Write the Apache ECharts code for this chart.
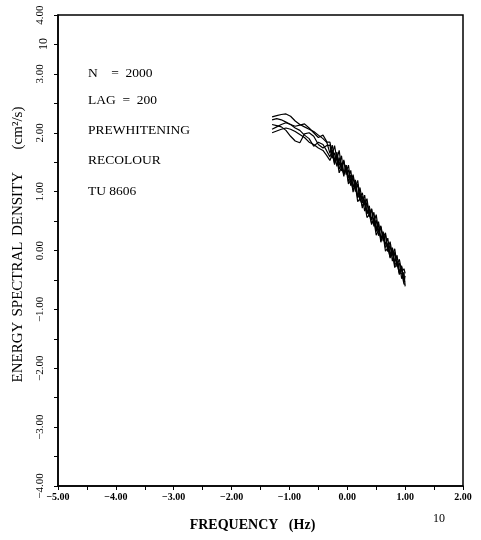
<!DOCTYPE html>
<html>
<head>
<meta charset="utf-8">
<script src="https://cdn.jsdelivr.net/npm/echarts@6/dist/echarts.min.js"></script>
<style>
html,body{margin:0;padding:0;background:#fff;}
#chart{width:481px;height:540px;}
</style>
</head>
<body>
<div id="chart"></div>
<script>
// log10 frequency (Hz)
var logFreq = [-1.30,-1.22,-1.14,-1.06,-0.98,-0.90,-0.82,-0.74,-0.66,-0.58,-0.50,-0.42,-0.36,
	-0.30,-0.26,-0.22,-0.18,-0.14,-0.10,-0.06,-0.02,0.02,0.06,0.10,0.14,0.18,0.22,0.26,0.30,0.34,0.38,0.42,
	0.46,0.50,0.54,0.58,0.62,0.66,0.70,0.74,0.78,0.82,0.86,0.90,0.94,0.98,1.00];
// log10 energy spectral density, one array per record
var esd_1 = [2.27,2.29,2.31,2.32,2.28,2.20,2.14,2.10,2.06,2.02,1.96,1.90,1.84,
	1.84,1.63,1.78,1.55,1.70,1.40,1.52,1.33,1.45,1.16,1.29,1.08,1.19,0.90,0.98,0.77,0.88,0.60,0.71,
	0.48,0.61,0.33,0.42,0.22,0.30,0.02,0.15,-0.08,0.03,-0.24,-0.15,-0.36,-0.31,-0.39];
var esd_2 = [2.22,2.24,2.22,2.18,2.14,2.11,2.13,2.15,2.08,2.00,1.92,1.96,1.86,
	1.65,1.79,1.52,1.67,1.44,1.61,1.30,1.45,1.23,1.36,1.07,1.20,0.91,1.07,0.81,0.94,0.63,0.76,0.52,
	0.65,0.36,0.49,0.20,0.32,0.10,0.21,-0.08,0.05,-0.20,-0.08,-0.37,-0.26,-0.53,-0.53];
var esd_3 = [2.14,2.12,2.10,2.04,1.94,1.86,1.83,1.98,2.00,1.94,1.80,1.74,1.78,
	1.79,1.57,1.66,1.43,1.58,1.35,1.54,1.29,1.37,1.10,1.25,1.00,1.13,0.84,0.92,0.67,0.82,0.57,0.70,
	0.41,0.52,0.25,0.40,0.16,0.27,-0.02,0.09,-0.18,-0.03,-0.28,-0.21,-0.48,-0.37,-0.61];
var esd_4 = [2.06,2.10,2.14,2.17,2.14,2.08,2.04,1.96,1.90,1.77,1.84,1.80,1.70,
	1.59,1.71,1.46,1.63,1.38,1.49,1.26,1.45,1.17,1.28,0.99,1.16,0.89,0.98,0.72,0.87,0.62,0.71,0.44,
	0.55,0.32,0.45,0.14,0.28,0.05,0.12,-0.13,0.02,-0.25,-0.18,-0.41,-0.28,-0.53,-0.43];
var esd_5 = [2.00,2.03,2.06,2.08,2.06,2.02,1.97,1.92,1.84,1.80,1.74,1.70,1.62,
	1.53,1.63,1.48,1.57,1.32,1.41,1.30,1.39,1.13,1.20,1.03,1.10,0.83,0.88,0.76,0.81,0.56,0.61,0.46,
	0.51,0.26,0.35,0.20,0.26,-0.01,0.04,-0.11,-0.04,-0.29,-0.22,-0.39,-0.38,-0.57,-0.57];
var records = [esd_1, esd_2, esd_3, esd_4, esd_5];
// annotation lines
var notes = ['N    =  2000', 'LAG  =  200', 'PREWHITENING', 'RECOLOUR', 'TU 8606'];
// y axis title words
var yTitle = ['ENERGY', 'SPECTRAL', 'DENSITY', '(cm\u00b2/s)'];

var serif = '"Liberation Serif", "DejaVu Serif", serif';

function fmt(v){
	return v.toFixed(2).replace('-', '\u2212');
}

var series = [];
for (var i = 0; i < records.length; i++) {
	var pts = [];
	for (var j = 0; j < logFreq.length; j++) {
		pts.push([logFreq[j], records[i][j]]);
	}
	series.push({
		type: 'line',
		data: pts,
		showSymbol: false,
		silent: true,
		lineStyle: {color: '#000', width: 1.2}
	});
}

var graphics = [];
var noteY = [74, 101, 131, 161, 192];
for (var k = 0; k < notes.length; k++) {
	graphics.push({
		type: 'text', left: 88, top: noteY[k] - 8,
		style: {text: notes[k], fill: '#000', font: '13.5px ' + serif}
	});
}
// y title, word by word (spacing as in the original)
var yTitleY = [352, 279, 204, 128];
for (var w = 0; w < yTitle.length; w++) {
	graphics.push({
		type: 'text', x: 18, y: yTitleY[w], rotation: Math.PI / 2,
		style: {text: yTitle[w], fill: '#000', font: '15px ' + serif, align: 'center', verticalAlign: 'middle'}
	});
}
// exponent base labels
graphics.push({
	type: 'text', x: 44, y: 44, rotation: Math.PI / 2,
	style: {text: '10', fill: '#000', font: '12px ' + serif, align: 'center', verticalAlign: 'middle'}
});
graphics.push({
	type: 'text', left: 433, top: 513,
	style: {text: '10', fill: '#000', font: '12px ' + serif}
});

var myChart = echarts.init(document.getElementById('chart'));
var option = {
	backgroundColor: '#fff',
	animation: false,
	grid: {
		left: 58, top: 15, width: 405, height: 471,
		show: true, borderColor: '#000', borderWidth: 1.5
	},
	xAxis: {
		type: 'value', min: -5, max: 2, interval: 1,
		name: 'FREQUENCY   (Hz)', nameLocation: 'middle', nameGap: 32,
		nameTextStyle: {color: '#000', fontFamily: serif, fontSize: 14, fontWeight: 'bold', padding: [0, 16, 0, 0]},
		axisLine: {show: true, onZero: false, lineStyle: {color: '#000', width: 1.5}},
		axisTick: {show: true, length: 4, lineStyle: {color: '#000'}},
		minorTick: {show: true, splitNumber: 2, length: 4, lineStyle: {color: '#000'}},
		splitLine: {show: false},
		axisLabel: {color: '#000', fontFamily: serif, fontSize: 10, fontWeight: 'bold', margin: 6, formatter: fmt}
	},
	yAxis: {
		type: 'value', min: -4, max: 4, interval: 1,
		axisLine: {show: true, onZero: false, lineStyle: {color: '#000', width: 1.5}},
		axisTick: {show: true, length: 4, lineStyle: {color: '#000'}},
		minorTick: {show: true, splitNumber: 2, length: 4, lineStyle: {color: '#000'}},
		splitLine: {show: false},
		axisLabel: {color: '#000', fontFamily: serif, fontSize: 11, rotate: 90, margin: 12, formatter: fmt}
	},
	graphic: graphics,
	series: series
};
myChart.setOption(option);
</script>
</body>
</html>
